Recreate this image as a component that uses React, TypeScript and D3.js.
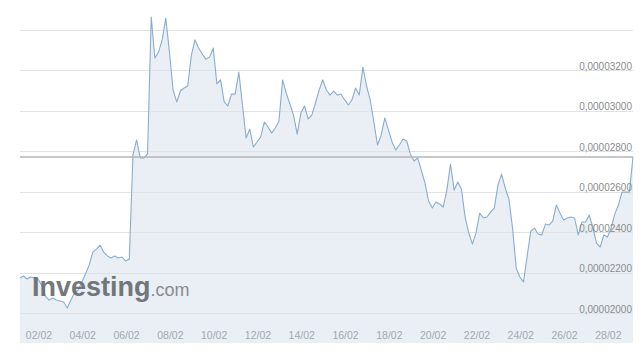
import React, { useRef, useEffect } from 'react';
import * as d3 from 'd3';

// 4-hourly closes, 01/02 03:00 -> 01/03 03:00, in units of 1e-6
const START = Date.UTC(2021, 1, 1, 3);
const STEP_HOURS = 4;
const PRICES_E6 = [
  21.73, 21.83, 21.68, 21.78, 21.73, 21.68, 21.38, 20.84, 20.64, 20.74,
  20.64, 20.59, 20.54, 20.25, 20.64, 20.99, 21.14, 21.53, 21.93, 22.37,
  23.01, 23.16, 23.36, 23.01, 22.82, 22.72, 22.82, 22.72, 22.77, 22.57,
  22.67, 27.82, 28.56, 27.67, 27.67, 27.87, 34.64, 32.61, 32.91, 33.51,
  34.59, 32.91, 31.03, 30.44, 30.98, 31.13, 31.23, 32.76, 33.51, 33.11,
  32.81, 32.56, 32.66, 33.11, 31.33, 31.53, 30.44, 30.24, 30.83, 30.83,
  31.92, 30.29, 28.66, 29.10, 28.21, 28.46, 28.71, 29.45, 29.20, 28.90,
  29.15, 29.50, 31.53, 30.88, 30.34, 29.79, 28.85, 29.89, 30.24, 29.60,
  29.79, 30.39, 31.03, 31.53, 31.03, 30.78, 30.98, 30.78, 30.83, 30.54,
  30.29, 30.54, 31.13, 30.78, 32.17, 31.23, 30.54, 29.45, 28.31, 28.80,
  29.65, 29.05, 28.46, 28.06, 28.31, 28.61, 28.51, 27.87, 27.52, 27.67,
  27.07, 26.43, 25.54, 25.19, 25.49, 25.39, 25.24, 26.08, 27.37, 26.08,
  26.48, 26.13, 24.75, 23.96, 23.41, 23.96, 24.94, 24.70, 24.75, 24.99,
  25.19, 26.33, 26.87, 26.18, 25.64, 24.20, 22.23, 21.78, 21.53, 22.82,
  24.05, 24.20, 23.91, 23.86, 24.40, 24.35, 24.55, 25.34, 24.94, 24.60,
  24.70, 24.75, 24.70, 23.86, 24.50, 24.50, 24.84, 24.25, 23.46, 23.26,
  23.86, 23.76, 24.20, 24.89, 25.34, 25.98, 25.98, 25.98, 27.72,
];

const GRID_TICKS = [20, 22, 24, 26, 28, 30, 32, 34];
const LABEL_TICKS = [20, 22, 24, 26, 28, 30, 32];
const DATE_TICKS = [2, 4, 6, 8, 10, 12, 14, 16, 18, 20, 22, 24, 26, 28];

const W = 640;
const H = 351;

const App: React.FC = () => {
  const svgRef = useRef<SVGSVGElement | null>(null);

  useEffect(() => {
    if (!svgRef.current) return;
    const svg = d3.select(svgRef.current);
    svg.selectAll('*').remove();

    const data = PRICES_E6.map((v, i) => ({
      date: new Date(START + i * STEP_HOURS * 3600 * 1000),
      value: v * 1e-6,
    }));

    const x = d3.scaleUtc()
      .domain(d3.extent(data, d => d.date) as [Date, Date])
      .range([19.8, 633]);
    const y = d3.scaleLinear().domain([20e-6, 34e-6]).range([313, 30]);
    const bottom = 343;
    const fmt = (v: number) => v.toFixed(8).replace('.', ',');

    // --- AREA ---
    const area = d3.area<{ date: Date; value: number }>()
      .x(d => x(d.date))
      .y0(bottom)
      .y1(d => y(d.value));
    svg.append('path')
      .datum(data)
      .attr('fill', '#e9eff5')
      .attr('d', area);

    // --- GRID ---
    svg.append('g').selectAll('line')
      .data(GRID_TICKS)
      .join('line')
      .attr('x1', 20)
      .attr('x2', 633)
      .attr('y1', d => Math.round(y(d * 1e-6)) + 0.5)
      .attr('y2', d => Math.round(y(d * 1e-6)) + 0.5)
      .attr('stroke', '#dfe3e7')
      .attr('stroke-width', 1);

    // --- LINE ---
    const line = d3.line<{ date: Date; value: number }>()
      .x(d => x(d.date))
      .y(d => y(d.value));
    svg.append('path')
      .datum(data)
      .attr('fill', 'none')
      .attr('stroke', '#8aadcd')
      .attr('stroke-width', 1.1)
      .attr('stroke-linejoin', 'round')
      .attr('d', line);

    // --- LAST PRICE LINE ---
    const last = data[data.length - 1].value;
    svg.append('line')
      .attr('x1', 20)
      .attr('x2', 633)
      .attr('y1', y(last))
      .attr('y2', y(last))
      .attr('stroke', '#b4b4b4')
      .attr('stroke-width', 1.5);

    // --- Y LABELS ---
    svg.append('g').selectAll('text')
      .data(LABEL_TICKS)
      .join('text')
      .attr('x', 632)
      .attr('y', d => y(d * 1e-6) - 0.5)
      .attr('text-anchor', 'end')
      .attr('font-family', 'Liberation Sans, Arial, sans-serif')
      .attr('font-size', 10)
      .attr('fill', '#8c8c8c')
      .text(d => fmt(d * 1e-6));

    // --- X LABELS ---
    svg.append('g').selectAll('text')
      .data(DATE_TICKS)
      .join('text')
      .attr('x', d => x(new Date(Date.UTC(2021, 1, d))))
      .attr('y', 339)
      .attr('text-anchor', 'middle')
      .attr('font-family', 'Liberation Sans, Arial, sans-serif')
      .attr('font-size', 10.5)
      .attr('fill', '#a3a9b0')
      .text(d => d3.utcFormat('%d/%m')(new Date(Date.UTC(2021, 1, d))));

    // --- WATERMARK ---
    const wm = svg.append('text')
      .attr('x', 32)
      .attr('y', 296)
      .attr('font-family', 'Liberation Sans, Arial, sans-serif')
      .attr('opacity', 0.9);
    wm.append('tspan')
      .attr('font-size', 27)
      .attr('font-weight', 'bold')
      .attr('fill', '#65696d')
      .text('Investing');
    wm.append('tspan')
      .attr('font-size', 18)
      .attr('fill', '#7d8185')
      .text('.com');
  }, []);

  return (
    <svg
      ref={svgRef}
      width={W}
      height={H}
      style={{ position: 'absolute', left: 0, top: 0, background: '#fff' }}
    />
  );
};

export default App;
